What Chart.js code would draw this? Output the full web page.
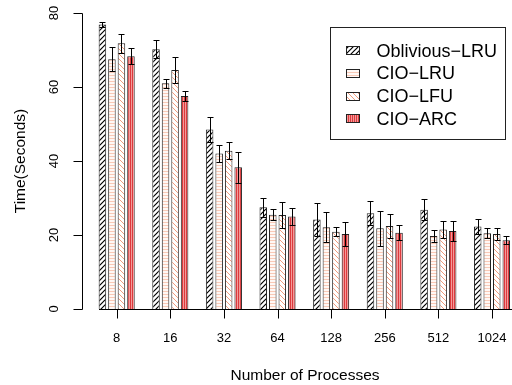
<!DOCTYPE html>
<html>
<head>
<meta charset="utf-8">
<script src="https://cdn.jsdelivr.net/npm/chart.js@4.4.0/dist/chart.umd.min.js"></script>
<style>
  html, body { margin: 0; padding: 0; background: #fff; }
  #wrap { width: 512px; height: 385px; }
</style>
</head>
<body>
<div id="wrap"><canvas id="timeChart" width="512" height="385"></canvas></div>
<script>
// categories and series
const processes = ['8', '16', '32', '64', '128', '256', '512', '1024'];
const seriesNames = ['Oblivious−LRU', 'CIO−LRU', 'CIO−LFU', 'CIO−ARC'];

const obliviousLru = [76.9, 70.2, 48.5, 27.5, 24.2, 25.9, 26.8, 22.3];
const cioLru = [67.5, 61.0, 42.0, 25.5, 22.1, 21.8, 19.7, 20.5];
const cioLfu = [71.8, 64.6, 42.8, 25.4, 20.9, 22.4, 21.5, 20.3];
const cioArc = [68.3, 57.6, 38.3, 25.0, 20.3, 20.6, 21.1, 18.6];

const obliviousLruErr = [0.6, 2.4, 3.3, 2.5, 4.5, 3.2, 2.8, 2.0];
const cioLruErr = [3.3, 1.2, 2.2, 1.5, 4.0, 4.8, 1.7, 1.4];
const cioLfuErr = [2.6, 3.6, 2.3, 3.4, 1.3, 3.2, 2.2, 1.7];
const cioArcErr = [2.2, 1.3, 4.2, 2.4, 3.3, 2.0, 2.7, 1.0];

const yTicks = [0, 20, 40, 60, 80];

const FONT = '"Liberation Sans", Arial, Helvetica, sans-serif';

function makePattern(w, h, draw) {
  const c = document.createElement('canvas');
  c.width = w;
  c.height = h;
  const g = c.getContext('2d');
  draw(g, w, h);
  return g.createPattern(c, 'repeat');
}

// R style shading lines
const hatchOblivious = makePattern(5, 5, (g, w, h) => {
  g.fillStyle = '#fff';
  g.fillRect(0, 0, w, h);
  g.strokeStyle = '#000';
  g.lineWidth = 1.2;
  g.beginPath();
  g.moveTo(-1, 6); g.lineTo(6, -1);
  g.moveTo(-1, 1); g.lineTo(1, -1);
  g.moveTo(4, 6); g.lineTo(6, 4);
  g.stroke();
});
const hatchLru = makePattern(3, 3, (g, w, h) => {
  g.fillStyle = '#fff8f5';
  g.fillRect(0, 0, w, h);
  g.fillStyle = '#f9c9b6';
  g.fillRect(0, 0, w, 1);
});
const hatchLfu = makePattern(5, 5, (g, w, h) => {
  g.fillStyle = '#fff';
  g.fillRect(0, 0, w, h);
  g.strokeStyle = '#f29b7c';
  g.lineWidth = 1;
  g.beginPath();
  g.moveTo(-1, -1); g.lineTo(6, 6);
  g.moveTo(4, -1); g.lineTo(6, 1);
  g.moveTo(-1, 4); g.lineTo(1, 6);
  g.stroke();
});
const hatchArc = makePattern(2, 2, (g, w, h) => {
  g.fillStyle = '#f39a9a';
  g.fillRect(0, 0, w, h);
  g.fillStyle = '#dc3a3d';
  g.fillRect(0, 0, 1, h);
});

const seriesValues = [obliviousLru, cioLru, cioLfu, cioArc];
const seriesErrors = [obliviousLruErr, cioLruErr, cioLfuErr, cioArcErr];
const seriesFills = [hatchOblivious, hatchLru, hatchLfu, hatchArc];

const errorBars = {
  id: 'errorBars',
  afterDatasetsDraw(chart) {
    const ctx = chart.ctx;
    const yScale = chart.scales.y;
    ctx.save();
    ctx.strokeStyle = '#000';
    ctx.lineWidth = 1;
    seriesValues.forEach((vals, i) => {
      const meta = chart.getDatasetMeta(i);
      meta.data.forEach((bar, j) => {
        const top = Math.round(yScale.getPixelForValue(vals[j] + seriesErrors[i][j])) + 0.5;
        const bot = Math.round(yScale.getPixelForValue(vals[j] - seriesErrors[i][j])) + 0.5;
        const x = Math.round(bar.x) + 0.5;
        ctx.beginPath();
        ctx.moveTo(x, top); ctx.lineTo(x, bot);
        ctx.moveTo(x - 3, top); ctx.lineTo(x + 3, top);
        ctx.moveTo(x - 3, bot); ctx.lineTo(x + 3, bot);
        ctx.stroke();
      });
    });
    ctx.restore();
  }
};

// axes, titles and legend drawn like R base graphics
const rAxes = {
  id: 'rAxes',
  afterDraw(chart) {
    const ctx = chart.ctx;
    const xs = chart.scales.x;
    const ys = chart.scales.y;
    const area = chart.chartArea;
    const axX = Math.round(area.left) + 0.5;
    const y0 = Math.round(ys.getPixelForValue(0)) + 0.5;

    ctx.save();
    ctx.strokeStyle = '#000';
    ctx.fillStyle = '#000';
    ctx.lineWidth = 1;

    // y axis
    ctx.beginPath();
    ctx.moveTo(axX, Math.round(ys.getPixelForValue(80)) + 0.5);
    ctx.lineTo(axX, y0);
    yTicks.forEach(t => {
      const py = Math.round(ys.getPixelForValue(t)) + 0.5;
      ctx.moveTo(axX - 9, py);
      ctx.lineTo(axX, py);
    });
    ctx.stroke();

    ctx.font = '13px ' + FONT;
    ctx.textAlign = 'center';
    ctx.textBaseline = 'middle';
    yTicks.forEach(t => {
      ctx.save();
      ctx.translate(54, ys.getPixelForValue(t));
      ctx.rotate(-Math.PI / 2);
      ctx.fillText(String(t), 0, 0);
      ctx.restore();
    });

    // x axis
    const firstBar = chart.getDatasetMeta(0).data[0];
    ctx.beginPath();
    ctx.moveTo(Math.round(firstBar.x - firstBar.width / 2), y0);
    ctx.lineTo(area.right, y0);
    processes.forEach((p, i) => {
      const px = Math.round(xs.getPixelForValue(i)) + 0.5;
      ctx.moveTo(px, y0);
      ctx.lineTo(px, y0 + 9);
    });
    ctx.stroke();
    processes.forEach((p, i) => {
      ctx.fillText(p, xs.getPixelForValue(i), 338);
    });

    // titles
    ctx.font = '15.5px ' + FONT;
    ctx.fillText('Number of Processes', 305, 376);
    ctx.save();
    ctx.translate(21, (area.top + area.bottom) / 2);
    ctx.rotate(-Math.PI / 2);
    ctx.fillText('Time(Seconds)', 0, 0);
    ctx.restore();

    // legend
    ctx.strokeStyle = '#222';
    ctx.strokeRect(330.5, 27.5, 175, 112);
    ctx.font = '18px ' + FONT;
    ctx.textAlign = 'left';
    seriesNames.forEach((name, i) => {
      const cy = 50.7 + i * 22.7;
      ctx.fillStyle = seriesFills[i];
      ctx.fillRect(346, Math.round(cy - 4.5), 14, 9);
      ctx.strokeStyle = '#222';
      ctx.strokeRect(346.5, Math.round(cy - 4.5) + 0.5, 13, 8);
      ctx.fillStyle = '#000';
      ctx.fillText(name, 376.5, cy + 1);
    });

    ctx.restore();
  }
};

const ctx = document.getElementById('timeChart').getContext('2d');

const datasets = seriesValues.map((vals, i) => ({
  label: seriesNames[i],
  data: vals.map((v, j) => ({ x: j, y: v })),
  backgroundColor: seriesFills[i],
  borderColor: '#222',
  borderWidth: 1,
  categoryPercentage: 0.71,
  barPercentage: 0.79,
}));

new Chart(ctx, {
  type: 'bar',
  data: { datasets },
  options: {
    responsive: false,
    animation: false,
    layout: { padding: { left: 82, right: 0, top: 13, bottom: 76 } },
    plugins: {
      legend: { display: false },
      tooltip: { enabled: false },
    },
    scales: {
      x: { type: 'linear', min: -0.647, max: 7.373, offset: false, display: false },
      y: { min: 0, max: 80, display: false },
    },
  },
  plugins: [errorBars, rAxes],
});
</script>
</body>
</html>
